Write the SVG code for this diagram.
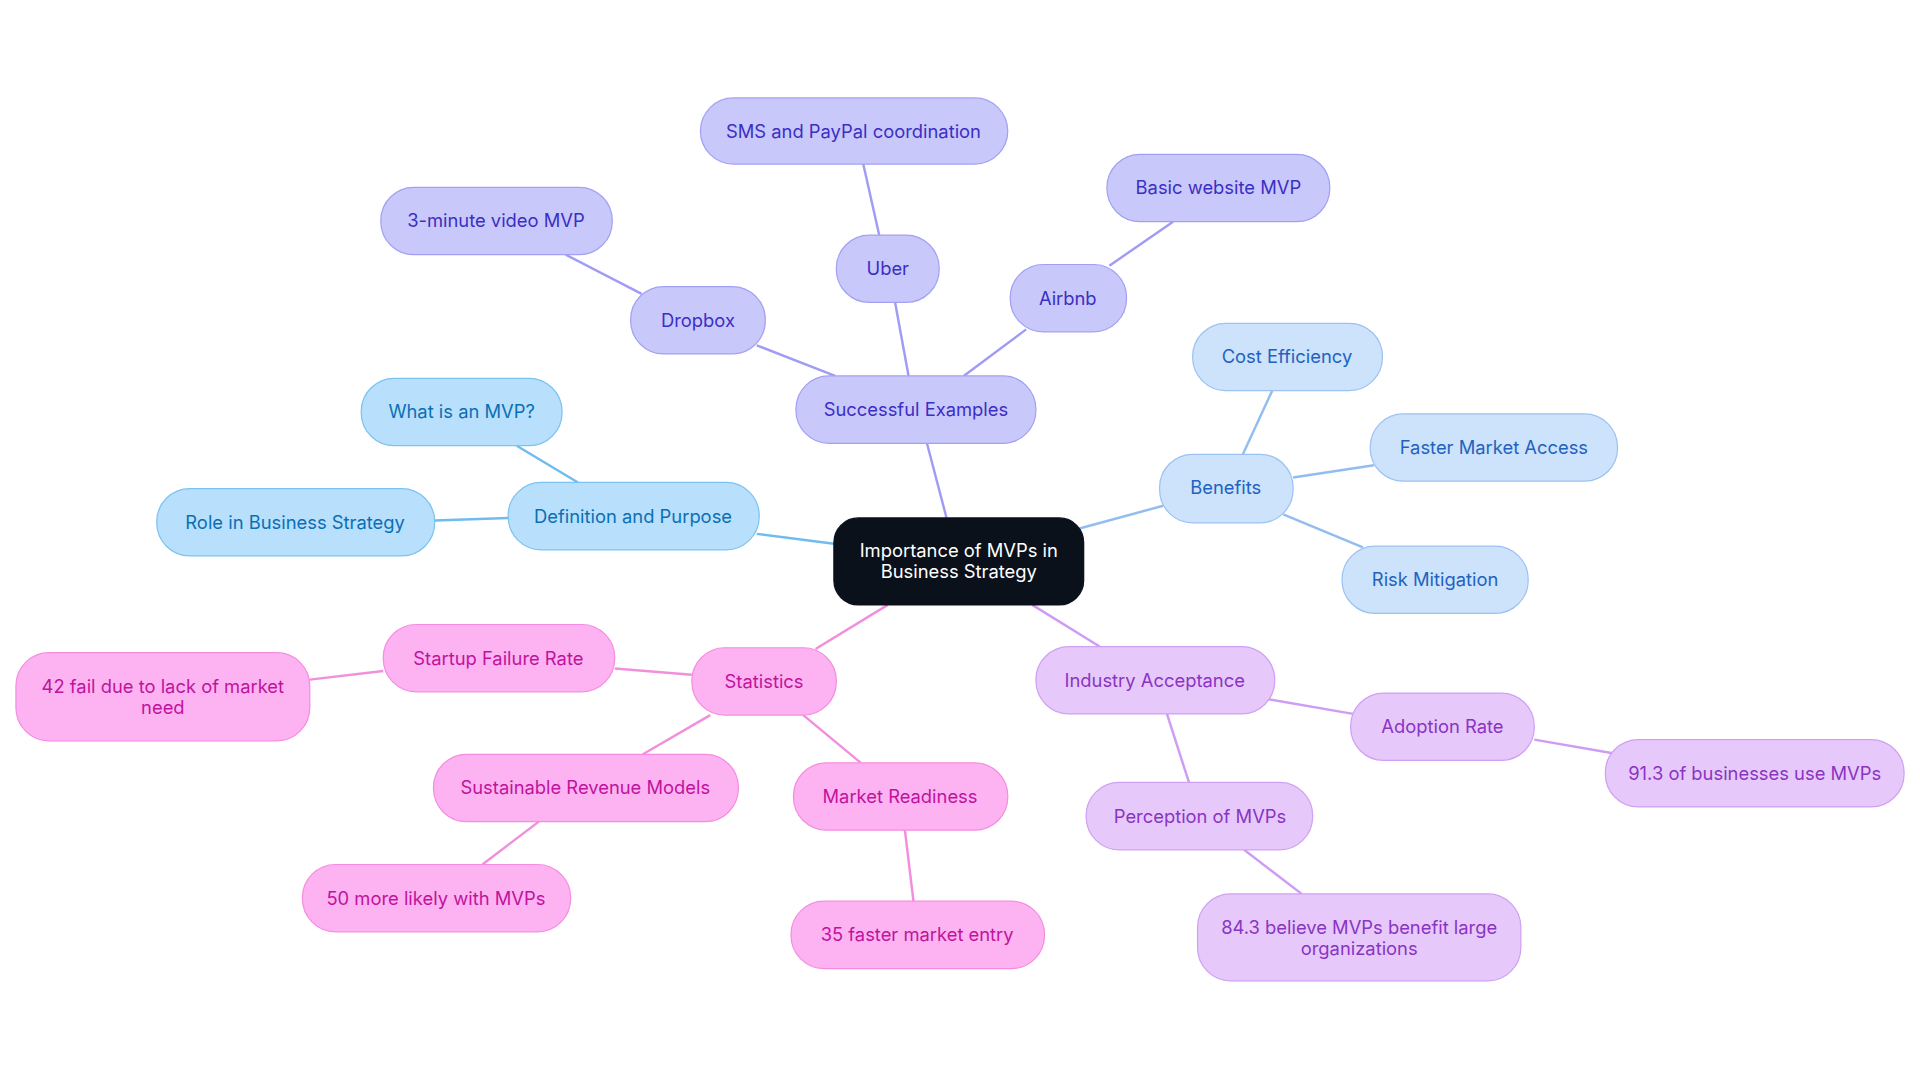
<svg xmlns="http://www.w3.org/2000/svg" width="1920" height="1083" viewBox="0 0 1920 1083">
<style>
text{font-family:Inter,"Noto Sans",sans-serif;font-size:15px;text-anchor:middle;dominant-baseline:central}
.p rect{fill:#c9c8fb;stroke:#a3a0f3;stroke-width:1}.p text{fill:#3b2fc4}
.b rect{fill:#cde2fb;stroke:#9cc2f1;stroke-width:1}.b text{fill:#1f63c0}
.c rect{fill:#b8e0fc;stroke:#7cc2f0;stroke-width:1}.c text{fill:#0b6fb5}
.k rect{fill:#fdb3f1;stroke:#f48de0;stroke-width:1}.k text{fill:#c0139e}
.v rect{fill:#e6c9fa;stroke:#cfa0f3;stroke-width:1}.v text{fill:#8a34c4}
.e line{stroke-width:2}
</style>
<rect width="1920" height="1083" fill="#fff"/>
<g transform="scale(1.2245)">
<g id="connectors" class="e">
<line x1="773" y1="423" x2="757" y2="362" stroke="#a09cf5"/>
<line x1="681" y1="444" x2="618" y2="436" stroke="#6fbcef"/>
<line x1="880" y1="432" x2="950" y2="413" stroke="#93bcf0"/>
<line x1="725" y1="494" x2="666" y2="530" stroke="#f28fdd"/>
<line x1="843" y1="494" x2="898" y2="528" stroke="#cf9cf3"/>
<line x1="682" y1="307" x2="618" y2="282" stroke="#a09cf5"/>
<line x1="742" y1="307" x2="731" y2="247" stroke="#a09cf5"/>
<line x1="787" y1="307" x2="838" y2="269" stroke="#a09cf5"/>
<line x1="524" y1="240" x2="462" y2="208" stroke="#a09cf5"/>
<line x1="718" y1="192" x2="705" y2="134" stroke="#a09cf5"/>
<line x1="906" y1="217" x2="958" y2="181" stroke="#a09cf5"/>
<line x1="1015" y1="371" x2="1039" y2="319" stroke="#93bcf0"/>
<line x1="1056" y1="390" x2="1122" y2="380" stroke="#93bcf0"/>
<line x1="1048" y1="420" x2="1113" y2="447" stroke="#93bcf0"/>
<line x1="472" y1="394" x2="422" y2="364" stroke="#6fbcef"/>
<line x1="415" y1="423" x2="355" y2="425" stroke="#6fbcef"/>
<line x1="565" y1="551" x2="502" y2="546" stroke="#f28fdd"/>
<line x1="580" y1="584" x2="525" y2="616" stroke="#f28fdd"/>
<line x1="656" y1="584" x2="703" y2="623" stroke="#f28fdd"/>
<line x1="313" y1="548" x2="253" y2="555" stroke="#f28fdd"/>
<line x1="440" y1="671" x2="394" y2="706" stroke="#f28fdd"/>
<line x1="739" y1="678" x2="746" y2="736" stroke="#f28fdd"/>
<line x1="1036" y1="571" x2="1105" y2="583" stroke="#cf9cf3"/>
<line x1="953" y1="583" x2="971" y2="639" stroke="#cf9cf3"/>
<line x1="1253" y1="604" x2="1316" y2="615" stroke="#cf9cf3"/>
<line x1="1016" y1="694" x2="1063" y2="730" stroke="#cf9cf3"/>
</g>
<g id="center"><rect x="681" y="423" width="204" height="71" rx="20" fill="#0b111b" stroke="#0b111b"/><text x="783" y="449" fill="#fff">Importance of MVPs in</text><text x="783" y="466" fill="#fff">Business Strategy</text></g>
<g id="se" class="p"><rect x="650" y="307" width="196" height="55" rx="27"/><text x="748" y="334">Successful Examples</text></g>
<g id="dropbox" class="p"><rect x="515" y="234" width="110" height="55" rx="27"/><text x="570" y="261">Dropbox</text></g>
<g id="video" class="p"><rect x="311" y="153" width="189" height="55" rx="27"/><text x="405" y="180">3-minute video MVP</text></g>
<g id="uber" class="p"><rect x="683" y="192" width="84" height="55" rx="27"/><text x="725" y="219">Uber</text></g>
<g id="sms" class="p"><rect x="572" y="80" width="251" height="54" rx="27"/><text x="697" y="107">SMS and PayPal coordination</text></g>
<g id="airbnb" class="p"><rect x="825" y="216" width="95" height="55" rx="27"/><text x="872" y="243">Airbnb</text></g>
<g id="basic" class="p"><rect x="904" y="126" width="182" height="55" rx="27"/><text x="995" y="153">Basic website MVP</text></g>
<g id="benefits" class="b"><rect x="947" y="371" width="109" height="56" rx="27"/><text x="1001" y="398">Benefits</text></g>
<g id="cost" class="b"><rect x="974" y="264" width="155" height="55" rx="27"/><text x="1051" y="291">Cost Efficiency</text></g>
<g id="faster" class="b"><rect x="1119" y="338" width="202" height="55" rx="27"/><text x="1220" y="365">Faster Market Access</text></g>
<g id="risk" class="b"><rect x="1096" y="446" width="152" height="55" rx="27"/><text x="1172" y="473">Risk Mitigation</text></g>
<g id="def" class="c"><rect x="415" y="394" width="205" height="55" rx="27"/><text x="517" y="421">Definition and Purpose</text></g>
<g id="what" class="c"><rect x="295" y="309" width="164" height="55" rx="27"/><text x="377" y="336">What is an MVP?</text></g>
<g id="role" class="c"><rect x="128" y="399" width="227" height="55" rx="27"/><text x="241" y="426">Role in Business Strategy</text></g>
<g id="stats" class="k"><rect x="565" y="529" width="118" height="55" rx="27"/><text x="624" y="556">Statistics</text></g>
<g id="startup" class="k"><rect x="313" y="510" width="189" height="55" rx="27"/><text x="407" y="537">Startup Failure Rate</text></g>
<g id="fail" class="k"><rect x="13" y="533" width="240" height="72" rx="27"/><text x="133" y="560">42 fail due to lack of market</text><text x="133" y="577">need</text></g>
<g id="sustain" class="k"><rect x="354" y="616" width="249" height="55" rx="27"/><text x="478" y="643">Sustainable Revenue Models</text></g>
<g id="fifty" class="k"><rect x="247" y="706" width="219" height="55" rx="27"/><text x="356" y="733">50 more likely with MVPs</text></g>
<g id="market" class="k"><rect x="648" y="623" width="175" height="55" rx="27"/><text x="735" y="650">Market Readiness</text></g>
<g id="thirtyfive" class="k"><rect x="646" y="736" width="207" height="55" rx="27"/><text x="749" y="763">35 faster market entry</text></g>
<g id="industry" class="v"><rect x="846" y="528" width="195" height="55" rx="27"/><text x="943" y="555">Industry Acceptance</text></g>
<g id="adopt" class="v"><rect x="1103" y="566" width="150" height="55" rx="27"/><text x="1178" y="593">Adoption Rate</text></g>
<g id="ninety" class="v"><rect x="1311" y="604" width="244" height="55" rx="27"/><text x="1433" y="631">91.3 of businesses use MVPs</text></g>
<g id="perc" class="v"><rect x="887" y="639" width="185" height="55" rx="27"/><text x="980" y="666">Perception of MVPs</text></g>
<g id="eighty" class="v"><rect x="978" y="730" width="264" height="71" rx="27"/><text x="1110" y="757">84.3 believe MVPs benefit large</text><text x="1110" y="774">organizations</text></g>
</g>
</svg>
